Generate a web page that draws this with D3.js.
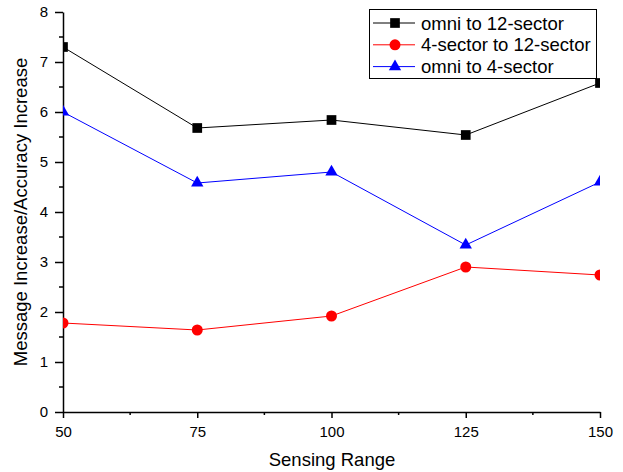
<!DOCTYPE html>
<html><head><meta charset="utf-8">
<script src="https://cdn.jsdelivr.net/npm/d3@7"></script>
<style>body{margin:0;background:#fff}svg{display:block}text{font-family:Arial,"Liberation Sans",sans-serif}</style>
</head><body>
<svg id="c" width="623" height="472"></svg>
<script>
const xValues = [50, 75, 100, 125, 150];
const omniTo12 = [7.30, 5.68, 5.84, 5.54, 6.58];
const sector4To12 = [1.78, 1.64, 1.92, 2.90, 2.74];
const omniTo4 = [6.00, 4.58, 4.80, 3.34, 4.60];
const seriesNames = ["omni to 12-sector", "4-sector to 12-sector", "omni to 4-sector"];
const xTicks = [50, 75, 100, 125, 150];
const yTicks = [0, 1, 2, 3, 4, 5, 6, 7, 8];

const series = [
  {name: seriesNames[0], values: omniTo12, color: "#000000", sym: d3.symbolSquare, size: 94},
  {name: seriesNames[1], values: sector4To12, color: "#ff0000", sym: d3.symbolCircle, size: 95},
  {name: seriesNames[2], values: omniTo4, color: "#0000ff", sym: d3.symbolTriangle, size: 66}
];

const svg = d3.select("#c");
const L = 63, R = 600, T = 12, B = 412;
const x = d3.scaleLinear().domain([50, 150]).range([L, R]);
const y = d3.scaleLinear().domain([0, 8]).range([B, T]);

svg.append("defs").append("clipPath").attr("id", "clip")
  .append("rect").attr("x", L).attr("y", T - 10).attr("width", R - L).attr("height", B - T + 10);

// axes
const xa = svg.append("g").attr("transform", `translate(0,${B})`)
  .call(d3.axisBottom(x).tickValues(xTicks).tickSize(6).tickSizeOuter(0).tickFormat(d3.format("d")));
const ya = svg.append("g").attr("transform", `translate(${L},0)`)
  .call(d3.axisLeft(y).tickValues(yTicks).tickSize(8).tickSizeOuter(0).tickFormat(d3.format("d")));
[xa, ya].forEach(g => {
  g.select(".domain").attr("stroke", "#000").attr("stroke-width", 1.5);
  g.selectAll(".tick line").attr("stroke", "#000").attr("stroke-width", 1.5);
  g.selectAll(".tick text").attr("font-size", 15).attr("fill", "#000");
});
xa.selectAll(".tick text").attr("y", 10).attr("dy", "1em");
ya.selectAll(".tick text").attr("x", -15);
// minor ticks
const xMinor = d3.range(62.5, 150, 25);
svg.append("g").selectAll("line").data(xMinor).join("line")
  .attr("x1", d => x(d)).attr("x2", d => x(d)).attr("y1", B).attr("y2", B + 3)
  .attr("stroke", "#000").attr("stroke-width", 1.5);
const yMinor = d3.range(0.5, 8, 1);
svg.append("g").selectAll("line").data(yMinor).join("line")
  .attr("x1", L - 4).attr("x2", L).attr("y1", d => y(d)).attr("y2", d => y(d))
  .attr("stroke", "#000").attr("stroke-width", 1.5);

// titles
svg.append("text").attr("x", 332).attr("y", 466).attr("text-anchor", "middle")
  .attr("font-size", 18.5).text("Sensing Range");
svg.append("text").attr("transform", `translate(27,${(T + B) / 2}) rotate(-90)`)
  .attr("text-anchor", "middle").attr("font-size", 18.5).text("Message Increase/Accuracy Increase");

// series
const plot = svg.append("g").attr("clip-path", "url(#clip)");
const line = d3.line().x((d, i) => x(xValues[i])).y(d => y(d));
series.forEach(s => {
  plot.append("path").datum(s.values).attr("d", line).attr("fill", "none")
    .attr("stroke", s.color).attr("stroke-width", 1);
  plot.selectAll(null).data(s.values).join("path")
    .attr("transform", (d, i) => `translate(${x(xValues[i])},${y(d)})`)
    .attr("d", d3.symbol().type(s.sym).size(s.size)).attr("fill", s.color);
});

// legend
const lg = svg.append("g");
lg.append("rect").attr("x", 369.5).attr("y", 9.5).attr("width", 227).attr("height", 69)
  .attr("fill", "#fff").attr("stroke", "#000").attr("stroke-width", 1);
series.forEach((s, i) => {
  const cy = 23 + i * 21.8;
  lg.append("line").attr("x1", 373).attr("x2", 415).attr("y1", cy).attr("y2", cy)
    .attr("stroke", s.color).attr("stroke-width", 1);
  lg.append("path").attr("transform", `translate(395,${cy})`)
    .attr("d", d3.symbol().type(s.sym).size(s.size)).attr("fill", s.color);
  lg.append("text").attr("x", 421).attr("y", cy + 6.5).attr("font-size", 18.5).text(s.name);
});
</script>
</body></html>
